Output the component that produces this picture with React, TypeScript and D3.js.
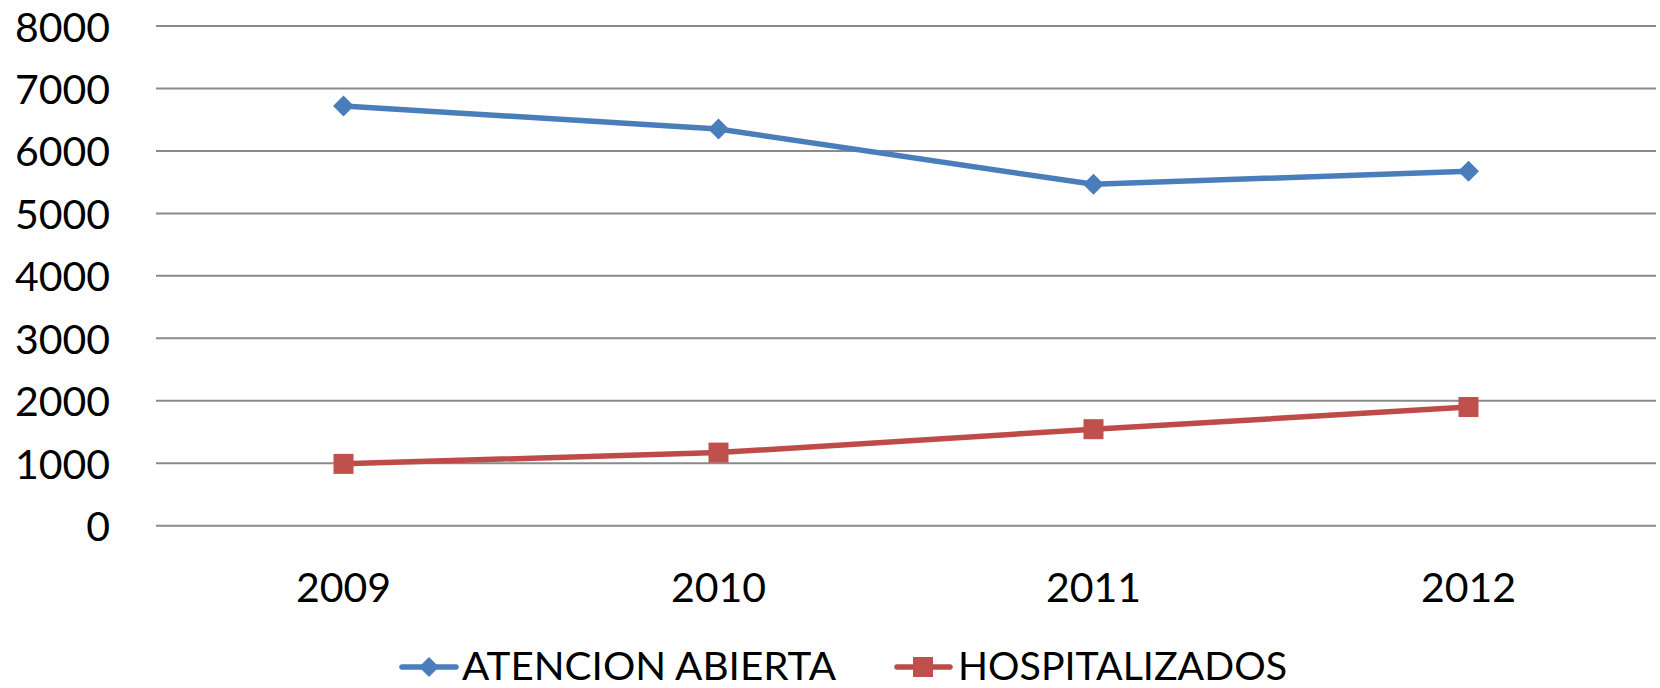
import React from "react";
import * as d3 from "d3";

const years = ["2009", "2010", "2011", "2012"];
const atencionAbierta = [6720, 6350, 5465, 5675];
const hospitalizados = [990, 1170, 1545, 1900];
const yTicks = [0, 1000, 2000, 3000, 4000, 5000, 6000, 7000, 8000];

const W = 1660;
const H = 688;
const FONT = "Lato, 'Open Sans', sans-serif";
const BLUE = "#4a7ebb";
const RED = "#be4b48";

export default function App() {
  const x = d3.scaleBand<string>().domain(years).range([156, 1656]);
  const y = d3.scaleLinear().domain([0, 8000]).range([525.7, 26]);
  const cx = (d: string) => (x(d) as number) + x.bandwidth() / 2;

  const line = d3
    .line<number>()
    .x((_, i) => cx(years[i]))
    .y((v) => y(v));

  const diamond = (px: number, py: number, r: number) =>
    `M${px},${py - r}L${px + r},${py}L${px},${py + r}L${px - r},${py}Z`;

  return (
    <svg
      width={W}
      height={H}
      style={{ position: "absolute", left: 0, top: 0, background: "#fff" }}
    >
      {/* gridlines */}
      {yTicks.map((t) => (
        <line
          key={t}
          x1={156}
          x2={1656}
          y1={y(t)}
          y2={y(t)}
          stroke="#8a8a8a"
          strokeWidth={2}
        />
      ))}
      {/* y labels */}
      {yTicks.map((t) => (
        <text
          key={"l" + t}
          x={110}
          y={y(t) + 15.5}
          textAnchor="end"
          fontFamily={FONT}
          fontSize={41}
          fill="#000"
        >
          {t}
        </text>
      ))}
      {/* x labels */}
      {years.map((yr) => (
        <text
          key={yr}
          x={cx(yr)}
          y={601.5}
          textAnchor="middle"
          fontFamily={FONT}
          fontSize={41}
          fill="#000"
        >
          {yr}
        </text>
      ))}

      {/* series */}
      <path d={line(atencionAbierta) || ""} fill="none" stroke={BLUE} strokeWidth={5.5} strokeLinejoin="round" />
      {atencionAbierta.map((v, i) => (
        <path key={"a" + i} d={diamond(cx(years[i]), y(v), 10.5)} fill={BLUE} />
      ))}
      <path d={line(hospitalizados) || ""} fill="none" stroke={RED} strokeWidth={5.5} strokeLinejoin="round" />
      {hospitalizados.map((v, i) => (
        <rect
          key={"h" + i}
          x={cx(years[i]) - 10}
          y={y(v) - 10}
          width={20}
          height={20}
          fill="#c0504d"
        />
      ))}

      {/* legend */}
      <line x1={402} x2={456} y1={667} y2={667} stroke={BLUE} strokeWidth={5.5} strokeLinecap="round" />
      <path d={diamond(429, 667, 10)} fill={BLUE} />
      <text
        x={462}
        y={679.5}
        fontFamily={FONT}
        fontSize={38}
        textLength={374}
        lengthAdjust="spacingAndGlyphs"
        fill="#000"
      >
        ATENCION ABIERTA
      </text>
      <line x1={897} x2={950} y1={667} y2={667} stroke={RED} strokeWidth={5.5} strokeLinecap="round" />
      <rect x={913} y={657} width={20} height={20} fill="#c0504d" />
      <text
        x={958}
        y={679.5}
        fontFamily={FONT}
        fontSize={38}
        textLength={329}
        lengthAdjust="spacingAndGlyphs"
        fill="#000"
      >
        HOSPITALIZADOS
      </text>
    </svg>
  );
}
